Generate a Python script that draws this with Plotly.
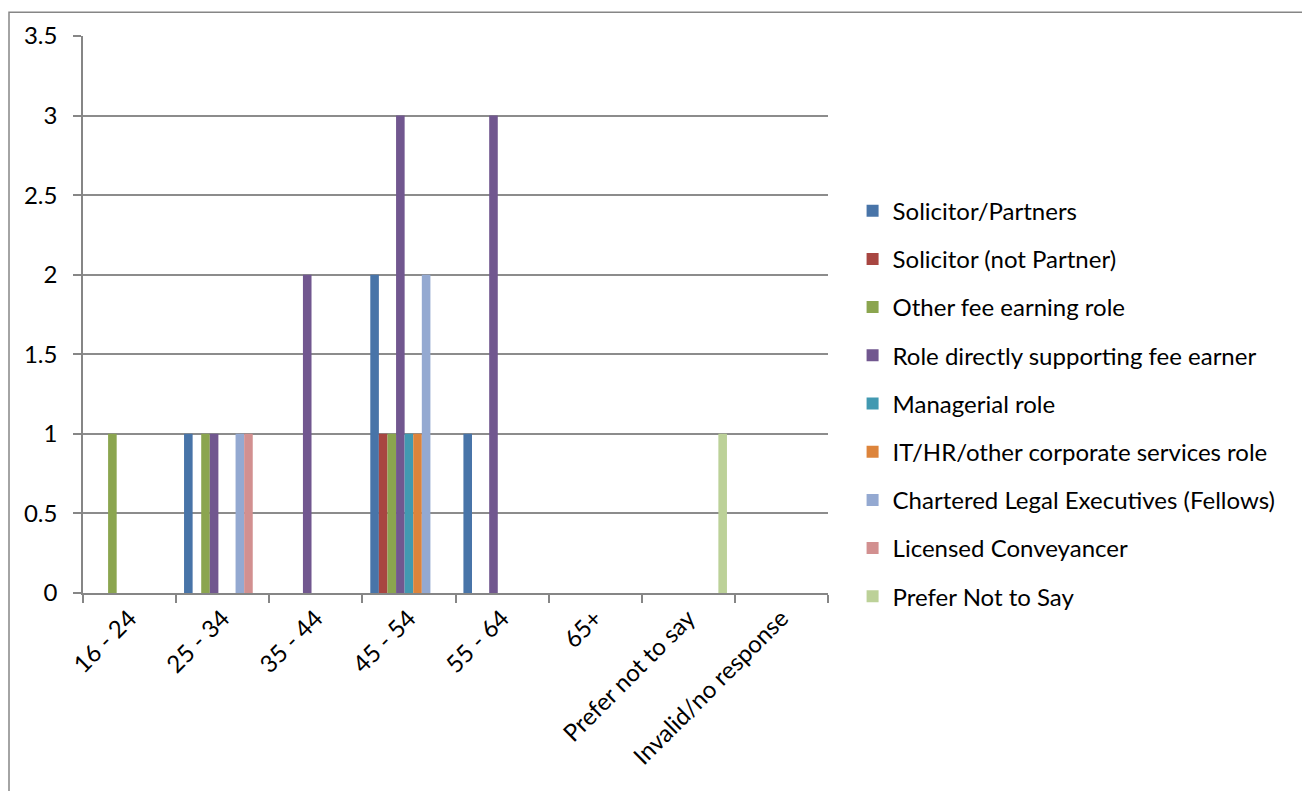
import plotly.graph_objects as go

categories = ["16 - 24", "25 - 34", "35 - 44", "45 - 54", "55 - 64", "65+",
              "Prefer not to say", "Invalid/no response"]

solicitor_partners = [0, 1, 0, 2, 1, 0, 0, 0]
solicitor_not_partner = [0, 0, 0, 1, 0, 0, 0, 0]
other_fee_earning = [1, 1, 0, 1, 0, 0, 0, 0]
role_supporting = [0, 1, 2, 3, 3, 0, 0, 0]
managerial = [0, 0, 0, 1, 0, 0, 0, 0]
it_hr_corporate = [0, 0, 0, 1, 0, 0, 0, 0]
chartered_legal = [0, 1, 0, 2, 0, 0, 0, 0]
licensed_conveyancer = [0, 1, 0, 0, 0, 0, 0, 0]
prefer_not_say = [0, 0, 0, 0, 0, 0, 1, 0]

series = [
    ("Solicitor/Partners", solicitor_partners, "#4874A8"),
    ("Solicitor (not Partner)", solicitor_not_partner, "#A84641"),
    ("Other fee earning role", other_fee_earning, "#8BA54F"),
    ("Role directly supporting fee earner", role_supporting, "#71578F"),
    ("Managerial role", managerial, "#4299B1"),
    ("IT/HR/other corporate services role", it_hr_corporate, "#DD843B"),
    ("Chartered Legal Executives (Fellows)", chartered_legal, "#94A9D1"),
    ("Licensed Conveyancer", licensed_conveyancer, "#D29090"),
    ("Prefer Not to Say", prefer_not_say, "#BCD198"),
]

font_family = "Lato, 'Open Sans', sans-serif"

fig = go.Figure()
for name, values, color in series:
    fig.add_trace(go.Bar(x=categories, y=values, name=name, legendgroup=name,
                         marker=dict(color=color, line=dict(width=0))))

# frame of the chart area: only the left and top edges fall inside the window
fx0 = -74 / 745
fy1 = 1 + 24 / 560
frame_path = f"M {fx0},-0.45 L {fx0},{fy1} L 1.75,{fy1}"

# the page body adds an 8px margin all round, so the figure is sized to fit inside it
fig.update_layout(
    width=1294,
    height=783,
    barmode="group",
    bargap=0.17,
    bargroupgap=0,
    plot_bgcolor="white",
    paper_bgcolor="white",
    margin=dict(l=75, r=474, t=25, b=198),
    font=dict(family=font_family, size=24, color="black"),
    legend=dict(
        x=1.033, y=0.34, xanchor="left", yanchor="middle",
        font=dict(size=24), tracegroupgap=14, itemwidth=30,
        bgcolor="rgba(0,0,0,0)",
    ),
    shapes=[
        dict(type="path", xref="paper", yref="paper", path=frame_path,
             line=dict(color="#868686", width=1.5), layer="below"),
    ],
)

fig.update_xaxes(
    type="category",
    tickson="boundaries",
    ticks="outside",
    ticklen=8,
    tickcolor="#868686",
    tickwidth=1.5,
    tickangle=-45,
    showline=True,
    linecolor="#868686",
    linewidth=1.5,
    showgrid=False,
    tickfont=dict(size=24),
)

fig.update_yaxes(
    range=[0, 3.5],
    tickvals=[0, 0.5, 1, 1.5, 2, 2.5, 3, 3.5],
    ticktext=["0", "0.5", "1", "1.5", "2", "2.5", "3", "3.5"],
    ticks="outside",
    ticklen=8,
    tickcolor="#868686",
    tickwidth=1.5,
    showline=True,
    linecolor="#868686",
    linewidth=1.5,
    showgrid=True,
    gridcolor="#8C8C8C",
    gridwidth=1.5,
    zeroline=False,
    ticklabelstandoff=11,
    tickfont=dict(size=24),
)

fig.write_html("out.html")
